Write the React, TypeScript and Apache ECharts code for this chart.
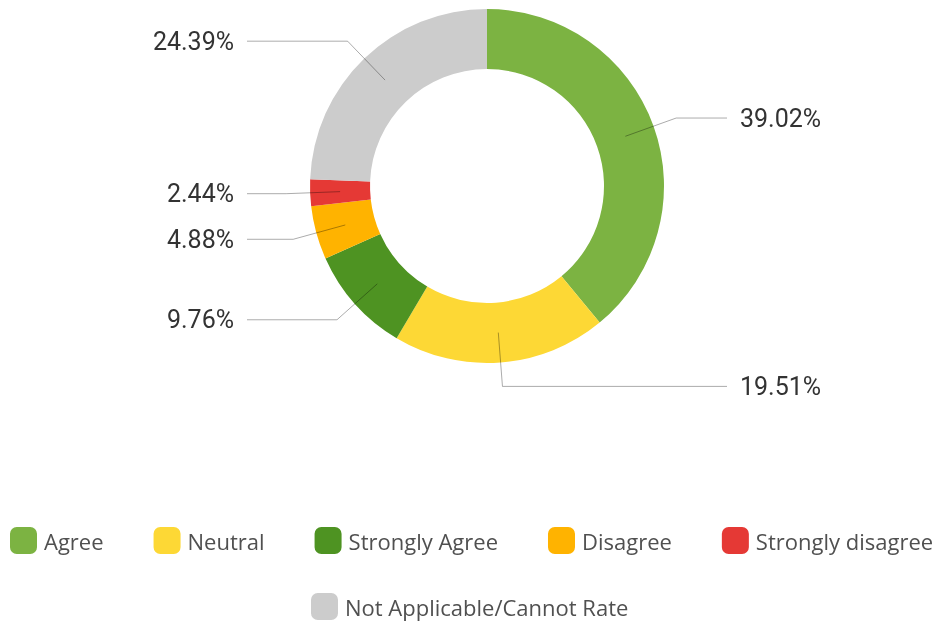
import React, { useEffect, useRef } from "react";
import * as echarts from "echarts";

const categories = ["Agree", "Neutral", "Strongly Agree", "Disagree", "Strongly disagree", "Not Applicable/Cannot Rate"];
const values = [39.02, 19.51, 9.76, 4.88, 2.44, 24.39];
const colors = ["#7CB342", "#FDD835", "#4E9322", "#FFB300", "#E53935", "#CCCCCC"];
const legendRow1 = ["Agree", "Neutral", "Strongly Agree", "Disagree", "Strongly disagree"];
const legendRow2 = ["Not Applicable/Cannot Rate"];

export default function App() {
  const ref = useRef<HTMLDivElement>(null);
  useEffect(() => {
    if (!ref.current) return;
    const chart = echarts.init(ref.current, null, { renderer: "svg" });
    const cx = 487;
    const center = [cx, 186];
    const lineReach = 240;
    const labelGap = 13;
    const ringData = categories.map((name, i) => ({ name, value: values[i], itemStyle: { color: colors[i] } }));
    const labelData = categories.map((name, i) => ({ name, value: values[i] }));
    const legendCommon = {
      orient: "horizontal" as const,
      icon: "roundRect",
      itemWidth: 27,
      itemHeight: 27,
      itemGap: 50,
      padding: 0,
      width: 941,
      textStyle: { fontFamily: "Open Sans", fontSize: 22, color: "#505050", padding: [0, 0, 0, 2] },
    };
    chart.setOption({
      animation: false,
      legend: [
        { ...legendCommon, data: legendRow1, left: 10, top: 527 },
        { ...legendCommon, data: legendRow2, left: 311, top: 593 },
      ],
      series: [
        {
          type: "pie",
          z: 1,
          center,
          radius: [117, 177],
          startAngle: 90,
          clockwise: true,
          silent: true,
          label: { show: false },
          labelLine: { show: false },
          data: ringData,
        },
        {
          type: "pie",
          z: 5,
          center,
          radius: [0, 147],
          startAngle: 90,
          clockwise: true,
          silent: true,
          avoidLabelOverlap: false,
          itemStyle: { color: "rgba(0,0,0,0)" },
          label: {
            show: true,
            position: "outside",
            distanceToLabelLine: labelGap,
            formatter: (p: any) => p.value.toFixed(2) + "%",
            fontFamily: "Roboto",
            fontSize: 25,
            color: "#333",
          },
          labelLine: {
            show: true,
            length: 54,
            length2: 20,
            lineStyle: { color: "rgba(0,0,0,0.33)", width: 1 },
          },
          labelLayout: (params: any) => {
            const pts = params.labelLinePoints;
            if (!pts) return {};
            const isLeft = pts[2][0] < pts[1][0];
            const endX = isLeft ? cx - lineReach : cx + lineReach;
            return {
              x: isLeft ? endX - labelGap : endX + labelGap,
              y: pts[1][1],
              align: isLeft ? "right" : "left",
              verticalAlign: "middle",
              labelLinePoints: [pts[0], pts[1], [endX, pts[1][1]]],
            };
          },
          data: labelData,
        },
      ],
    });
    return () => chart.dispose();
  }, []);
  return <div ref={ref} style={{ position: "fixed", left: 0, top: 0, width: 941, height: 625 }} />;
}
